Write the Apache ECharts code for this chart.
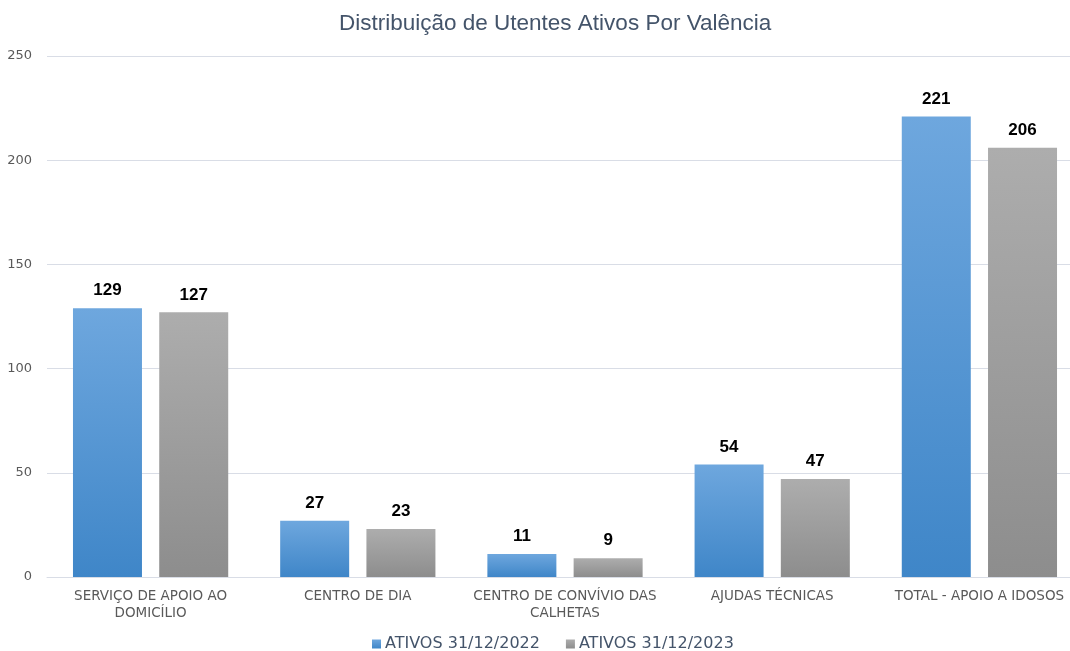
<!DOCTYPE html>
<html>
<head>
<meta charset="utf-8">
<script src="https://cdn.jsdelivr.net/npm/echarts@6/dist/echarts.min.js"></script>
<style>
  html, body { margin: 0; padding: 0; background: #fff; }
  #chart { width: 1070px; height: 651px; }
</style>
</head>
<body>
<div id="chart"></div>
<script>
// dados
var categorias = [
  "SERVIÇO DE APOIO AO\nDOMICÍLIO",
  "CENTRO DE DIA",
  "CENTRO DE CONVÍVIO DAS\nCALHETAS",
  "AJUDAS TÉCNICAS",
  "TOTAL - APOIO A IDOSOS"
];
var ativos2022 = [129, 27, 11, 54, 221];
var ativos2023 = [127, 23, 9, 47, 206];
var nomesSeries = ["ATIVOS 31/12/2022", "ATIVOS 31/12/2023"];

var chart = echarts.init(document.getElementById("chart"));

function gradiente(topo, base) {
  return new echarts.graphic.LinearGradient(0, 0, 0, 1, [
    { offset: 0, color: topo },
    { offset: 1, color: base }
  ]);
}

var labelStyle = {
  show: true,
  position: "top",
  distance: 9,
  color: "#000",
  fontWeight: "bold",
  fontSize: 17,
  fontFamily: "Liberation Sans"
};

chart.setOption({
  animation: false,
  title: {
    text: "Distribuição de Utentes Ativos Por Valência",
    left: 334,
    top: 7,
    textStyle: {
      color: "#44546a",
      fontSize: 22.5,
      fontWeight: "normal",
      fontFamily: "Liberation Sans"
    }
  },
  legend: {
    data: nomesSeries,
    bottom: -6,
    left: 367,
    icon: "rect",
    itemWidth: 9,
    itemHeight: 9,
    itemGap: 26,
    textStyle: {
      color: "#44546a",
      fontSize: 16,
      fontFamily: "DejaVu Sans",
      padding: [0, 0, 0, -1]
    }
  },
  grid: {
    left: 47,
    right: -13,
    top: 56,
    bottom: 74,
    outerBoundsMode: "none"
  },
  xAxis: {
    type: "category",
    data: categorias,
    axisLine: { lineStyle: { color: "#d9dde6" } },
    axisTick: { show: false },
    axisLabel: {
      color: "#595959",
      fontSize: 13.5,
      fontFamily: "DejaVu Sans",
      lineHeight: 17,
      margin: 11,
      interval: 0
    }
  },
  yAxis: {
    type: "value",
    min: 0,
    max: 250,
    interval: 50,
    axisLine: { show: false },
    axisTick: { show: false },
    axisLabel: {
      color: "#595959",
      fontSize: 13,
      fontFamily: "DejaVu Sans",
      margin: 15
    },
    splitLine: { lineStyle: { color: "#d9dde6" } }
  },
  series: [
    {
      name: nomesSeries[0],
      type: "bar",
      data: ativos2022,
      barWidth: 69,
      barGap: "25%",
      itemStyle: { color: gradiente("#6ea7de", "#3f86c8") },
      label: labelStyle
    },
    {
      name: nomesSeries[1],
      type: "bar",
      data: ativos2023,
      barWidth: 69,
      itemStyle: { color: gradiente("#adadad", "#8d8d8d") },
      label: labelStyle
    }
  ]
});
</script>
</body>
</html>
